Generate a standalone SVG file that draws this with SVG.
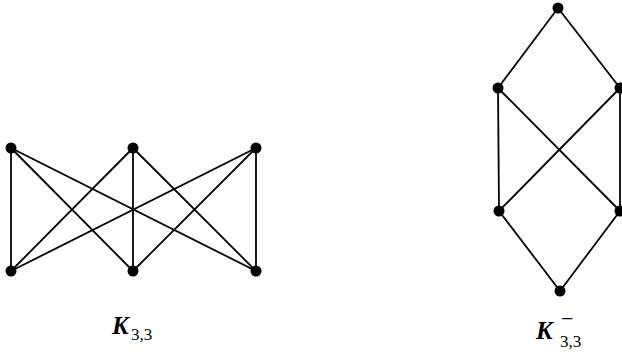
<svg xmlns="http://www.w3.org/2000/svg" width="622" height="354" viewBox="0 0 622 354">
<style>
.e{stroke:#000;stroke-width:1.8;fill:none;stroke-linecap:round}
.n{fill:#000}
.lbl{font-family:"Liberation Serif","DejaVu Serif",serif;font-style:italic;font-weight:bold;font-size:25px;fill:#000}
.sub{font-family:"Liberation Serif","DejaVu Serif",serif;font-style:normal;font-weight:normal;font-size:17px;fill:#000}
.sup{font-family:"Liberation Serif","DejaVu Serif",serif;font-size:22px;fill:#000}
</style>
<rect width="622" height="354" fill="#fff"/>
<g id="connectors">
<line class="e" x1="11" y1="148" x2="11" y2="271"/>
<line class="e" x1="11" y1="148" x2="133" y2="271"/>
<line class="e" x1="11" y1="148" x2="256" y2="271"/>
<line class="e" x1="133" y1="148" x2="11" y2="271"/>
<line class="e" x1="133" y1="148" x2="133" y2="271"/>
<line class="e" x1="133" y1="148" x2="256" y2="271"/>
<line class="e" x1="256" y1="148" x2="11" y2="271"/>
<line class="e" x1="256" y1="148" x2="133" y2="271"/>
<line class="e" x1="256" y1="148" x2="256" y2="271"/>
<line class="e" x1="558" y1="8" x2="498" y2="88"/>
<line class="e" x1="558" y1="8" x2="620" y2="88"/>
<line class="e" x1="498" y1="88" x2="499" y2="211"/>
<line class="e" x1="620" y1="88" x2="620" y2="211"/>
<line class="e" x1="498" y1="88" x2="620" y2="211"/>
<line class="e" x1="620" y1="88" x2="499" y2="211"/>
<line class="e" x1="499" y1="211" x2="560" y2="291"/>
<line class="e" x1="620" y1="211" x2="560" y2="291"/>
</g>
<g id="a1"><circle class="n" cx="11" cy="148" r="5.5"/></g>
<g id="a2"><circle class="n" cx="133" cy="148" r="5.5"/></g>
<g id="a3"><circle class="n" cx="256" cy="148" r="5.5"/></g>
<g id="b1"><circle class="n" cx="11" cy="271" r="5.5"/></g>
<g id="b2"><circle class="n" cx="133" cy="271" r="5.5"/></g>
<g id="b3"><circle class="n" cx="256" cy="271" r="5.5"/></g>
<g id="r-top"><circle class="n" cx="558" cy="8" r="5.5"/></g>
<g id="r-ul"><circle class="n" cx="498" cy="88" r="5.5"/></g>
<g id="r-ur"><circle class="n" cx="620" cy="88" r="5.5"/></g>
<g id="r-ll"><circle class="n" cx="499" cy="211" r="5.5"/></g>
<g id="r-lr"><circle class="n" cx="620" cy="211" r="5.5"/></g>
<g id="r-bot"><circle class="n" cx="560" cy="291" r="5.5"/></g>
<g id="label-k33">
<text class="lbl" x="112" y="334">K</text>
<text class="sub" x="131" y="340">3,3</text>
</g>
<g id="label-k33-minus">
<text class="lbl" x="536" y="339">K</text>
<text class="sup" x="561" y="326">−</text>
<text class="sub" x="560" y="347">3,3</text>
</g>
</svg>
